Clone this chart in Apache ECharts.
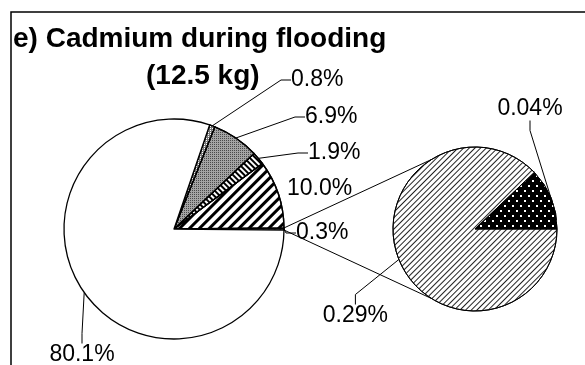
<!DOCTYPE html>
<html>
<head>
<meta charset="utf-8">
<script src="https://cdn.jsdelivr.net/npm/echarts@6/dist/echarts.min.js"></script>
<style>
  html, body { margin: 0; padding: 0; background: #fff; }
  #chart { width: 585px; height: 365px; }
</style>
</head>
<body>
<div id="chart"></div>
<script>
// Cadmium load during flooding, share of the 12.5 kg total (%)
const mainNames  = ['Other', 'Source D', 'Source C', 'Source B', 'Source A', 'Main'];
const mainValues = [0.3, 10.0, 1.9, 6.9, 0.8, 80.1];
// Breakdown of the "Other" wedge
const subNames   = ['Minor 2', 'Minor 1'];
const subValues  = [0.04, 0.29];

const titleLine1 = 'e) Cadmium during flooding';
const titleLine2 = '(12.5 kg)';

// Geometry of the two pies
const mainC = [174, 229], mainR = 110;
const subC  = [475, 229], subR  = 82;
const otherHalfAngle = mainValues[0] / 100 * 360 / 2;   // half width of the "Other" wedge, degrees
const connectorAngle = 122;                             // where connectors meet the detail pie

const FONT = 'Liberation Sans, Arial, sans-serif';

// Fill patterns
const hatchThin = { symbol: 'rect', symbolSize: 1, color: '#222', dashArrayX: [1, 0], dashArrayY: [1, 2.3], rotation: -Math.PI / 4 };
const mainStyles = [
  { color: '#fff', decal: hatchThin },
  { color: '#fff', decal: { symbol: 'rect', symbolSize: 1, color: '#000', dashArrayX: [1, 0], dashArrayY: [3, 3.2], rotation: -Math.PI / 4 } },
  { color: '#fff', decal: { symbol: 'rect', symbolSize: 1, color: '#000', dashArrayX: [1.5, 1.8], dashArrayY: [1, 0], rotation: -Math.PI / 4 } },
  { color: '#a4a4a4', decal: { symbol: 'rect', symbolSize: 1, color: '#4a4a4a', dashArrayX: [1, 1], dashArrayY: [1, 1] } },
  { color: '#777', decal: { symbol: 'rect', symbolSize: 1, color: '#fff', dashArrayX: [1, 1], dashArrayY: [1, 1] } },
  { color: '#fff' }
];
const subStyles = [
  { color: '#000', decal: { symbol: 'rect', symbolSize: 1, color: '#fff', dashArrayX: [[1.5, 5.5], [0, 3.5, 1.5, 2]], dashArrayY: [1.5, 2.5] } },
  { color: '#fff', decal: hatchThin }
];

// Label placement (x, y, horizontal alignment, leader shown)
const mainSpots = [
  [296, 233, 'left', true],
  [287, 189, 'left', false],
  [308, 153, 'left', true],
  [305, 117, 'left', true],
  [291, 80, 'left', true],
  [82, 355, 'center', true]
];
const subSpots = [
  [530, 109, 'center', true],
  [388, 316, 'right', true]
];

function pt(c, r, deg) {
  const a = deg * Math.PI / 180;
  return [c[0] + r * Math.cos(a), c[1] - r * Math.sin(a)];
}

const labelBase = { show: true, position: 'outside', color: '#000', fontFamily: FONT, fontSize: 23 };
const lineBase = { show: true, length: 10, length2: 10, smooth: false, lineStyle: { color: '#000', width: 1 } };

function buildData(names, values, styles, spots, digits, border) {
  return values.map((v, i) => ({
    name: names[i],
    value: v,
    itemStyle: Object.assign({ borderColor: '#000', borderWidth: border }, styles[i]),
    label: Object.assign({}, labelBase, { formatter: () => v.toFixed(digits) + '%' }),
    labelLine: Object.assign({}, lineBase, { show: spots[i][3] })
  }));
}

function placer(spots) {
  return function (p) {
    const s = spots[p.dataIndex];
    return { x: s[0], y: s[1], align: s[2], verticalAlign: 'middle' };
  };
}

const topStart = pt(mainC, mainR, otherHalfAngle);
const botStart = pt(mainC, mainR, -otherHalfAngle);
const topEnd = pt(subC, subR, connectorAngle);
const botEnd = pt(subC, subR, -connectorAngle);

const titleStyle = { fontFamily: FONT, fontSize: 28, fontWeight: 'bold', color: '#000' };

const chart = echarts.init(document.getElementById('chart'), null, { renderer: 'canvas' });
chart.setOption({
  backgroundColor: '#fff',
  animation: false,
  title: [
    { text: titleLine1, left: 13, top: 25, padding: 0, textStyle: titleStyle },
    { text: titleLine2, left: 146, top: 62, padding: 0, textStyle: titleStyle }
  ],
  graphic: [
    { type: 'rect', silent: true, z: -1,
      shape: { x: 11, y: 12, width: 700, height: 500 },
      style: { fill: null, stroke: '#000', lineWidth: 1.5 } },
    { type: 'line', silent: true, z: 10,
      shape: { x1: topStart[0], y1: topStart[1], x2: topEnd[0], y2: topEnd[1] },
      style: { stroke: '#000', lineWidth: 1 } },
    { type: 'line', silent: true, z: 10,
      shape: { x1: botStart[0], y1: botStart[1], x2: botEnd[0], y2: botEnd[1] },
      style: { stroke: '#000', lineWidth: 1 } }
  ],
  series: [
    {
      type: 'pie',
      center: mainC,
      radius: mainR,
      startAngle: 360 - otherHalfAngle,
      clockwise: false,
      avoidLabelOverlap: false,
      minAngle: 0,
      silent: true,
      emphasis: { disabled: true },
      labelLayout: placer(mainSpots),
      data: buildData(mainNames, mainValues, mainStyles, mainSpots, 1, 1.3)
    },
    {
      type: 'pie',
      center: subC,
      radius: subR,
      startAngle: 0,
      clockwise: false,
      avoidLabelOverlap: false,
      silent: true,
      emphasis: { disabled: true },
      labelLayout: placer(subSpots),
      data: buildData(subNames, subValues, subStyles, subSpots, 2, 1)
    }
  ]
});
</script>
</body>
</html>
